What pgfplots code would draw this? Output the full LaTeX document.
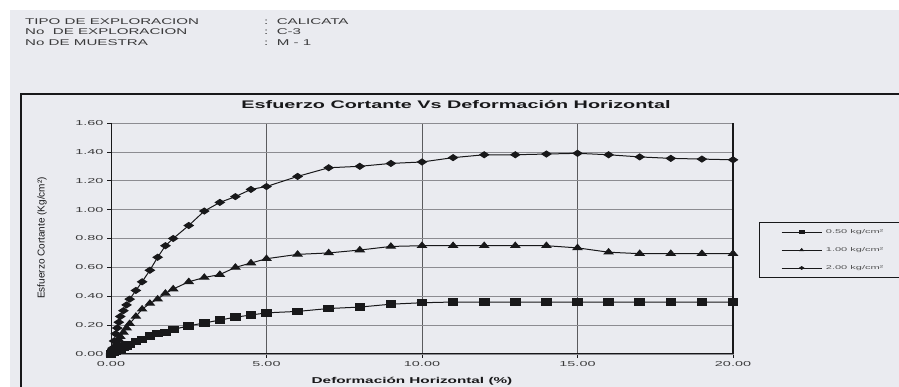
\documentclass[border=0pt]{standalone}
\usepackage{pgfplots}
\pgfplotsset{compat=1.18}
\usepackage{fontspec}
\setmainfont{Liberation Sans}
\newfontfamily\widefont{Liberation Sans}[FakeStretch=1.8]
\newfontfamily\tickfont{Liberation Sans}[FakeStretch=2.0]
\definecolor{paper}{RGB}{234,235,240}
\definecolor{ink}{RGB}{24,24,26}
\definecolor{gridgray}{RGB}{140,140,145}
\newcommand{\legtext}[1]{\makebox[63pt][l]{\hspace{4pt}#1}}

\begin{document}
\begin{tikzpicture}
\useasboundingbox (0pt,0pt) rectangle (899pt,387pt);
\fill[white] (0pt,0pt) rectangle (899pt,387pt);
\fill[paper] (10pt,0pt) rectangle (899pt,377pt);

% sample header
\begin{scope}[every node/.style={anchor=west, inner sep=0pt, text=ink!85,
    font=\widefont\fontsize{8.4}{9}\selectfont}]
  \node at (25pt,365.5pt) {TIPO DE EXPLORACION};
  \node at (25pt,355pt)   {No\ \ DE EXPLORACION};
  \node at (25pt,344.5pt) {No DE MUESTRA};
  \node at (264pt,365.5pt) {:\ \ CALICATA};
  \node at (264pt,355pt)   {:\ \ C-3};
  \node at (264pt,344.5pt) {:\ \ M - 1};
\end{scope}

% chart frame
\draw[ink, line width=1.3pt] (21pt,0pt) -- (21pt,293pt) -- (899pt,293pt);

% titles
\node[font=\widefont\bfseries\fontsize{11}{12}\selectfont, text=ink] at (456pt,282pt) {Esfuerzo Cortante Vs Deformación Horizontal};
\node[font=\widefont\bfseries\fontsize{8.5}{9}\selectfont, text=ink] at (412pt,6pt) {Deformación Horizontal (\%)};
\node[rotate=90, font=\fontsize{10}{11}\selectfont, text=ink] at (42pt,149pt) {Esfuerzo Cortante (Kg/cm²)};

\begin{axis}[
  at={(111pt,33pt)}, anchor=origin,
  width=622pt, height=231pt, scale only axis,
  xmin=0, xmax=20, ymin=0, ymax=1.6,
  xtick={0,5,10,15,20}, ytick={0,0.2,...,1.6},
  /pgf/number format/.cd, fixed, fixed zerofill, precision=2, assume math mode=true,
  /pgfplots/.cd,
  tick label style={font=\tickfont\fontsize{7.2}{8}\selectfont, text=ink!85},
  xmajorgrids, ymajorgrids,
  x grid style={gridgray!65!black, line width=0.8pt},
  y grid style={gridgray, line width=0.6pt},
  axis line style={gridgray, line width=0.6pt},
  tick align=outside, major tick length=4pt,
  tick style={ink, line width=0.6pt},
  xtick pos=bottom, ytick pos=left,
  clip=false,
  legend style={at={(1.0418,0.5714)}, anchor=north west, draw=ink, line width=0.9pt,
    fill=paper, font=\tickfont\fontsize{5.5}{6}\selectfont, text=ink!75,
    inner xsep=22pt, inner ysep=7pt, row sep=13pt,
    nodes={inner sep=0pt, text height=4pt, text depth=1pt}},
  legend cell align=left,
  legend image code/.code={
    \draw[mark repeat=2, mark phase=2, mark size=1.6pt, line width=0.5pt]
      plot coordinates {(0pt,0pt) (20pt,0pt) (40pt,0pt)};},
]
% darker axis edges
\draw[ink, line width=1pt] (axis cs:0,1.6) -- (axis cs:0,0) -- (axis cs:20,0);
\draw[ink, line width=1.6pt] (axis cs:20,0) -- (axis cs:20,1.6);

% 0.50 kg/cm2
\addplot[ink, line width=1pt, mark=square*, mark size=3.2pt, mark options={xscale=1.5}] coordinates {
 (0,0) (0.05,0.01) (0.1,0.015) (0.15,0.02) (0.2,0.025) (0.25,0.03) (0.3,0.035)
 (0.4,0.045) (0.5,0.055) (0.6,0.065) (0.8,0.085) (1.0,0.10) (1.25,0.125)
 (1.5,0.14) (1.75,0.15) (2.0,0.17) (2.5,0.195) (3.0,0.215) (3.5,0.235)
 (4.0,0.255) (4.5,0.27) (5.0,0.285) (6,0.295) (7,0.315) (8,0.325) (9,0.345)
 (10,0.355) (11,0.36) (12,0.36) (13,0.36) (14,0.36) (15,0.36) (16,0.36)
 (17,0.36) (18,0.36) (19,0.36) (20,0.36)};
\addlegendentry{\legtext{0.50 kg/cm²}}

% 1.00 kg/cm2
\addplot[ink, line width=1pt, mark=triangle*, mark size=3.5pt, mark options={xscale=1.45}] coordinates {
 (0,0) (0.05,0.02) (0.1,0.04) (0.15,0.06) (0.2,0.08) (0.25,0.10) (0.3,0.12)
 (0.4,0.15) (0.5,0.18) (0.6,0.21) (0.8,0.26) (1.0,0.31) (1.25,0.35)
 (1.5,0.38) (1.75,0.42) (2.0,0.45) (2.5,0.50) (3.0,0.53) (3.5,0.55)
 (4.0,0.60) (4.5,0.63) (5.0,0.66) (6,0.69) (7,0.70) (8,0.72) (9,0.745)
 (10,0.75) (11,0.75) (12,0.75) (13,0.75) (14,0.75) (15,0.735) (16,0.705)
 (17,0.695) (18,0.695) (19,0.695) (20,0.695)};
\addlegendentry{\legtext{1.00 kg/cm²}}

% 2.00 kg/cm2
\addplot[ink, line width=1pt, mark=diamond*, mark size=3pt, mark options={xscale=2}] coordinates {
 (0,0) (0.05,0.04) (0.1,0.09) (0.15,0.14) (0.2,0.18) (0.25,0.22) (0.3,0.26)
 (0.4,0.30) (0.5,0.34) (0.6,0.38) (0.8,0.44) (1.0,0.50) (1.25,0.58)
 (1.5,0.67) (1.75,0.75) (2.0,0.80) (2.5,0.89) (3.0,0.99) (3.5,1.05)
 (4.0,1.09) (4.5,1.14) (5.0,1.16) (6,1.23) (7,1.29) (8,1.30) (9,1.32)
 (10,1.33) (11,1.36) (12,1.38) (13,1.38) (14,1.385) (15,1.39) (16,1.38)
 (17,1.365) (18,1.355) (19,1.35) (20,1.345)};
\addlegendentry{\legtext{2.00 kg/cm²}}
\end{axis}
\end{tikzpicture}
\end{document}
